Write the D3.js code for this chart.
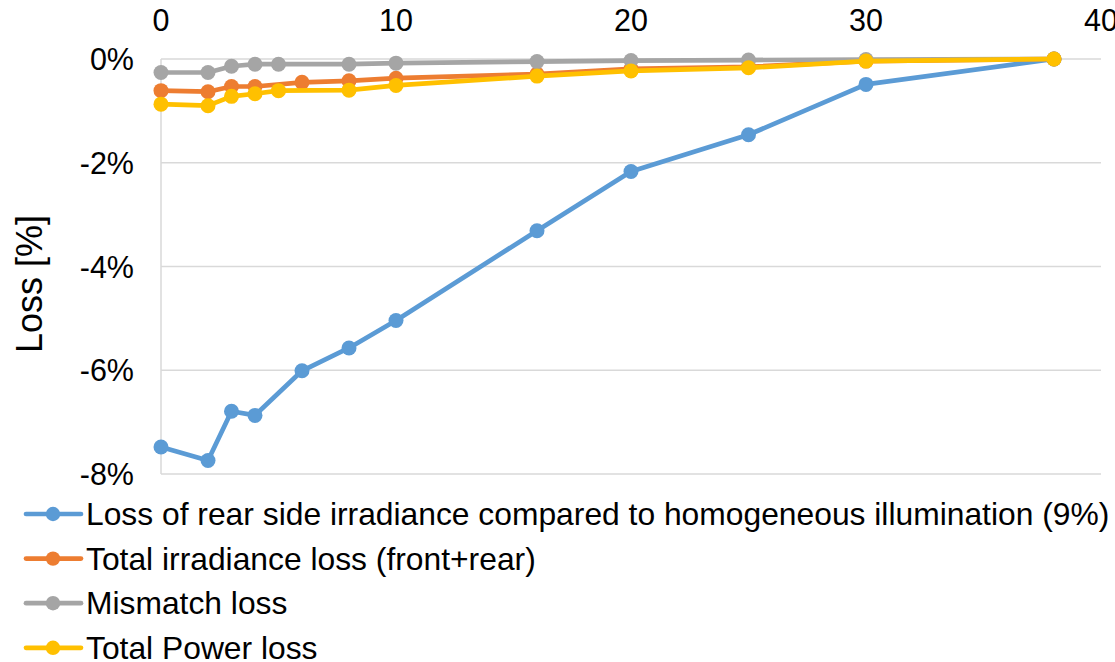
<!DOCTYPE html>
<html>
<head>
<meta charset="utf-8">
<script src="https://cdn.jsdelivr.net/npm/d3@7"></script>
<style>
body { margin: 0; background: #fff; }
text { font-family: "Liberation Sans", Arial, sans-serif; fill: #000; }
</style>
</head>
<body>
<script>
var width = 1115,
    height = 662;

// x positions (distance) per series
var xBlue   = [0, 2, 3, 4, 6, 8, 10, 16, 20, 25, 30, 38];
var xOrange = [0, 2, 3, 4, 6, 8, 10, 16, 20, 25, 30, 38];
var xGray   = [0, 2, 3, 4, 5, 8, 10, 16, 20, 25, 30, 38];
var xYellow = [0, 2, 3, 4, 5, 8, 10, 16, 20, 25, 30, 38];

// loss values in %
var rearLoss     = [-7.48, -7.74, -6.79, -6.87, -6.01, -5.57, -5.04, -3.31, -2.17, -1.46, -0.49, 0];
var totalIrrLoss = [-0.61, -0.63, -0.53, -0.53, -0.45, -0.42, -0.37, -0.29, -0.19, -0.15, -0.04, 0];
var mismatchLoss = [-0.26, -0.26, -0.14, -0.10, -0.10, -0.10, -0.08, -0.05, -0.03, -0.02, -0.01, 0];
var powerLoss    = [-0.87, -0.90, -0.72, -0.67, -0.61, -0.60, -0.51, -0.33, -0.23, -0.17, -0.04, 0];

var seriesNames = [
  "Loss of rear side irradiance compared to homogeneous illumination (9%)",
  "Total irradiance loss (front+rear)",
  "Mismatch loss",
  "Total Power loss"
];
var seriesColors = ["#5B9BD5", "#ED7D31", "#A5A5A5", "#FFC000"];

var xTicks = [0, 10, 20, 30, 40];
var yTicks = [0, -2, -4, -6, -8];

var series = [
  { name: seriesNames[0], color: seriesColors[0], xs: xBlue,   ys: rearLoss },
  { name: seriesNames[1], color: seriesColors[1], xs: xOrange, ys: totalIrrLoss },
  { name: seriesNames[2], color: seriesColors[2], xs: xGray,   ys: mismatchLoss },
  { name: seriesNames[3], color: seriesColors[3], xs: xYellow, ys: powerLoss }
];

var svg = d3.select("body").append("svg")
    .attr("width", width)
    .attr("height", height);

var x = d3.scaleLinear().domain([0, 40]).range([161, 1101]);
var y = d3.scaleLinear().domain([-8, 0]).range([474, 59]);

// gridlines
svg.append("g").selectAll("line").data(yTicks).enter().append("line")
    .attr("x1", x(0)).attr("x2", x(40))
    .attr("y1", function(d) { return y(d); })
    .attr("y2", function(d) { return y(d); })
    .attr("stroke", "#d9d9d9").attr("stroke-width", 1.5);

// vertical axis line
svg.append("line")
    .attr("x1", x(0)).attr("x2", x(0))
    .attr("y1", y(0)).attr("y2", y(-8))
    .attr("stroke", "#d9d9d9").attr("stroke-width", 1.5);

// x tick labels on top
svg.append("g").selectAll("text").data(xTicks).enter().append("text")
    .attr("x", function(d) { return x(d); })
    .attr("y", 31)
    .attr("text-anchor", "middle")
    .style("font-size", "30.5px")
    .text(function(d) { return d; });

// y tick labels
svg.append("g").selectAll("text").data(yTicks).enter().append("text")
    .attr("x", 134)
    .attr("y", function(d) { return y(d) + 11; })
    .attr("text-anchor", "end")
    .style("font-size", "30.5px")
    .text(function(d) { return d + "%"; });

// y axis title
svg.append("text")
    .attr("transform", "translate(42," + 284 + ") rotate(-90)")
    .attr("text-anchor", "middle")
    .style("font-size", "36px")
    .text("Loss [%]");

var line = d3.line()
    .x(function(d) { return x(d[0]); })
    .y(function(d) { return y(d[1]); });

series.forEach(function(s) {
  var pts = s.xs.map(function(v, i) { return [v, s.ys[i]]; });
  var g = svg.append("g");
  g.append("path")
      .attr("d", line(pts))
      .attr("fill", "none")
      .attr("stroke", s.color)
      .attr("stroke-width", 4.7)
      .attr("stroke-linejoin", "round");
  g.selectAll("circle").data(pts).enter().append("circle")
      .attr("cx", function(d) { return x(d[0]); })
      .attr("cy", function(d) { return y(d[1]); })
      .attr("r", 7.5)
      .attr("fill", s.color);
});

// legend
var legend = svg.append("g").selectAll("g").data(series).enter().append("g")
    .attr("transform", function(d, i) { return "translate(0," + (525 + i * 44.6) + ")"; });
legend.append("line")
    .attr("x1", 26).attr("x2", 81)
    .attr("y1", -11).attr("y2", -11)
    .attr("stroke", function(d) { return d.color; })
    .attr("stroke-width", 4.7)
    .attr("stroke-linecap", "round");
legend.append("circle")
    .attr("cx", 53).attr("cy", -11).attr("r", 7.2)
    .attr("fill", function(d) { return d.color; });
legend.append("text")
    .attr("x", 86)
    .attr("y", 0)
    .style("font-size", "31.8px")
    .text(function(d) { return d.name; });
</script>
</body>
</html>
